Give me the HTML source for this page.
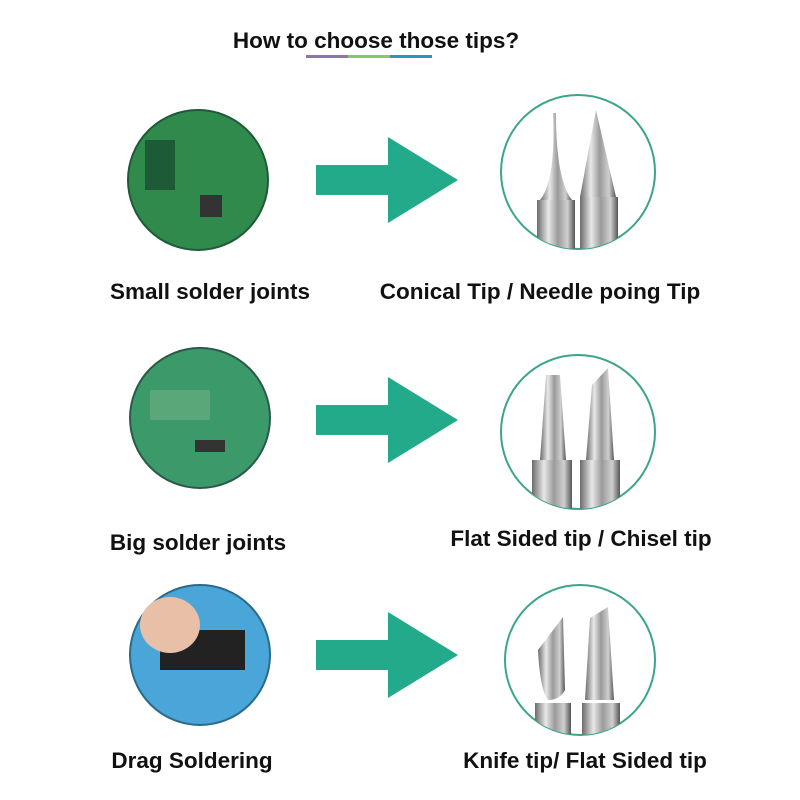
<!DOCTYPE html>
<html><head><meta charset="utf-8"><style>
body{margin:0;background:#fff;}
svg{display:block}
text{font-family:"Liberation Sans",Arial,sans-serif;font-weight:bold;fill:#111}
</style></head><body>
<svg width="800" height="800" viewBox="0 0 800 800" xmlns="http://www.w3.org/2000/svg">
<defs>
<linearGradient id="metal" x1="0" x2="1">
<stop offset="0" stop-color="#6a6a6a"/><stop offset="0.3" stop-color="#e8e8e8"/><stop offset="0.55" stop-color="#9a9a9a"/><stop offset="0.8" stop-color="#d0d0d0"/><stop offset="1" stop-color="#555"/>
</linearGradient>
<clipPath id="c1"><circle cx="578" cy="172" r="77"/></clipPath>
<clipPath id="c2"><circle cx="578" cy="432" r="77"/></clipPath>
<clipPath id="c3"><circle cx="580" cy="660" r="75"/></clipPath>
</defs>
<text x="376" y="48" font-size="22.5" text-anchor="middle" style="font-weight:600">How to choose those tips?</text>
<rect x="306" y="55" width="42" height="3" fill="#8a78a8"/>
<rect x="348" y="55" width="42" height="3" fill="#8cc46a"/>
<rect x="390" y="55" width="42" height="3" fill="#2a98b0"/>

<!-- row 1 -->
<circle cx="198" cy="180" r="70" fill="#2f8a4c" stroke="#1f5a3a" stroke-width="2"/>
<rect x="145" y="140" width="30" height="50" fill="#1d5a36"/>
<rect x="200" y="195" width="22" height="22" fill="#333"/>
<path d="M316 165h72v-28l70 43-70 43v-28h-72z" fill="#22aa8a"/>
<circle cx="578" cy="172" r="77" fill="#fff" stroke="#3aa58a" stroke-width="2"/>
<g clip-path="url(#c1)">
<path d="M553 113 Q556 180 540 200 L572 200 Q556 180 556 113Z" fill="url(#metal)"/>
<rect x="537" y="200" width="38" height="60" fill="url(#metal)"/>
<path d="M596 110 L580 197 L616 197 Z" fill="url(#metal)"/>
<rect x="580" y="197" width="38" height="60" fill="url(#metal)"/>
</g>
<text x="210" y="299" font-size="22.5" text-anchor="middle">Small solder joints</text>
<text x="540" y="299" font-size="22.5" text-anchor="middle">Conical Tip / Needle poing Tip</text>

<!-- row 2 -->
<circle cx="200" cy="418" r="70" fill="#3c9a6a" stroke="#2a5a4a" stroke-width="2"/>
<rect x="150" y="390" width="60" height="30" fill="#5aa87a"/>
<rect x="195" y="440" width="30" height="12" fill="#333"/>
<path d="M316 405h72v-28l70 43-70 43v-28h-72z" fill="#22aa8a"/>
<circle cx="578" cy="432" r="77" fill="#fff" stroke="#3aa58a" stroke-width="2"/>
<g clip-path="url(#c2)">
<path d="M546 375 L560 375 L566 460 L540 460Z" fill="url(#metal)"/>
<rect x="532" y="460" width="40" height="60" fill="url(#metal)"/>
<path d="M592 385 L608 368 L614 460 L586 460Z" fill="url(#metal)"/>
<rect x="580" y="460" width="40" height="60" fill="url(#metal)"/>
</g>
<text x="198" y="550" font-size="22.5" text-anchor="middle">Big solder joints</text>
<text x="581" y="546" font-size="22.5" text-anchor="middle">Flat Sided tip / Chisel tip</text>

<!-- row 3 -->
<circle cx="200" cy="655" r="70" fill="#4aa6d8" stroke="#2a6a8a" stroke-width="2"/>
<rect x="160" y="630" width="85" height="40" fill="#222"/>
<ellipse cx="170" cy="625" rx="30" ry="28" fill="#e8c0a8"/>
<path d="M316 640h72v-28l70 43-70 43v-28h-72z" fill="#22aa8a"/>
<circle cx="580" cy="660" r="75" fill="#fff" stroke="#3aa58a" stroke-width="2"/>
<g clip-path="url(#c3)">
<path d="M538 650 L563 617 L565 690 Q560 700 548 700 Q540 690 538 650Z" fill="url(#metal)"/>
<rect x="535" y="703" width="36" height="50" fill="url(#metal)"/>
<path d="M590 618 L608 607 L614 700 L585 700Z" fill="url(#metal)"/>
<rect x="582" y="703" width="38" height="50" fill="url(#metal)"/>
</g>
<text x="192" y="768" font-size="22.5" text-anchor="middle">Drag Soldering</text>
<text x="585" y="768" font-size="22.5" text-anchor="middle">Knife tip/ Flat Sided tip</text>
</svg>
</body></html>
